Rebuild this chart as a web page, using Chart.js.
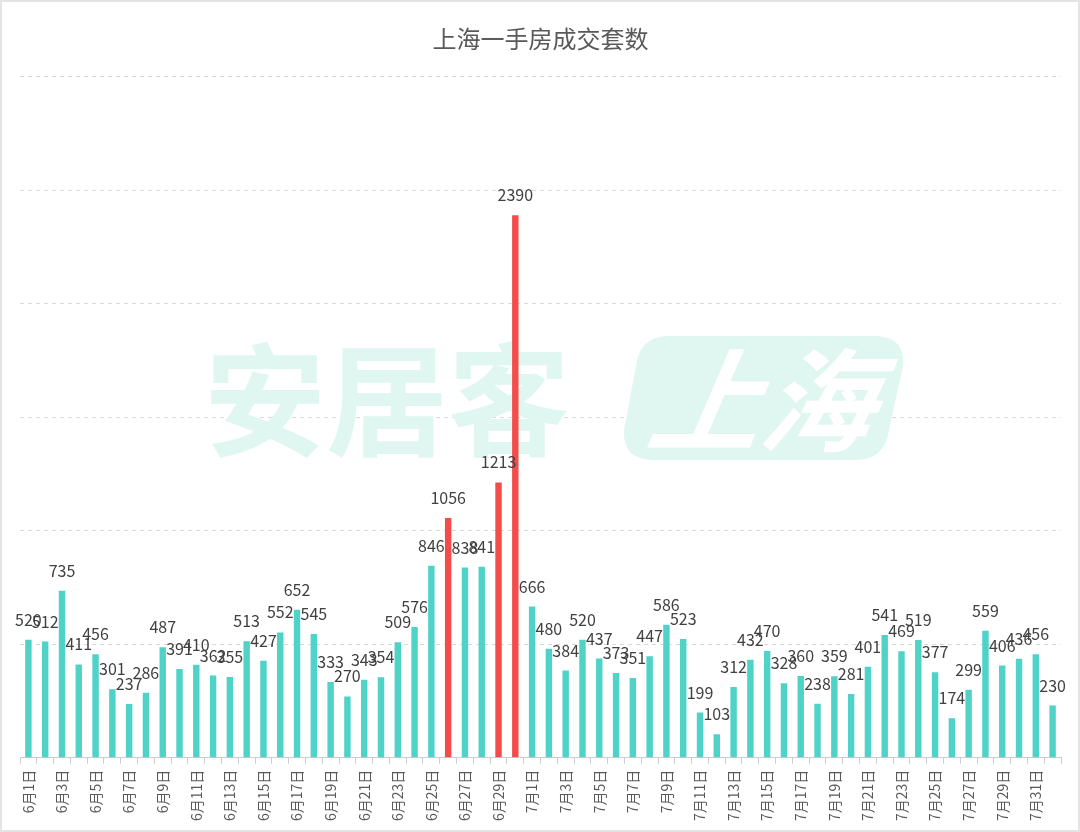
<!DOCTYPE html>
<html>
<head>
<meta charset="utf-8">
<script src="https://cdn.jsdelivr.net/npm/chart.js@4"></script>
<style>
  html, body { margin: 0; padding: 0; background: #fff; }
  #wrap {
    width: 1080px; height: 832px; box-sizing: border-box;
    border: 2px solid #e4e4e4; background: #fff;
  }
  canvas { display: block; }
</style>
</head>
<body>
<div id="wrap"><canvas id="chart" width="1076" height="828"></canvas></div>
<script>
const days = [
  '6月1日','6月2日','6月3日','6月4日','6月5日','6月6日','6月7日','6月8日','6月9日','6月10日',
  '6月11日','6月12日','6月13日','6月14日','6月15日','6月16日','6月17日','6月18日','6月19日','6月20日',
  '6月21日','6月22日','6月23日','6月24日','6月25日','6月26日','6月27日','6月28日','6月29日','6月30日',
  '7月1日','7月2日','7月3日','7月4日','7月5日','7月6日','7月7日','7月8日','7月9日','7月10日',
  '7月11日','7月12日','7月13日','7月14日','7月15日','7月16日','7月17日','7月18日','7月19日','7月20日',
  '7月21日','7月22日','7月23日','7月24日','7月25日','7月26日','7月27日','7月28日','7月29日','7月30日',
  '7月31日','8月1日'
];

const juneDeals = [520, 512, 735, 411, 456, 301, 237, 286, 487, 391,
                   410, 362, 355, 513, 427, 552, 652, 545, 333, 270,
                   343, 354, 509, 576, 846, 1056, 838, 841, 1213, 2390];
const julyDeals = [666, 480, 384, 520, 437, 373, 351, 447, 586, 523,
                   199, 103, 312, 432, 470, 328, 360, 238, 359, 281,
                   401, 541, 469, 519, 377, 174, 299, 559, 406, 436,
                   456];
const augustDeals = [230];

const highlightDays = ['6月26日', '6月29日', '6月30日'];
const yTicks = [0, 500, 1000, 1500, 2000, 2500, 3000];

const deals = juneDeals.concat(julyDeals, augustDeals);
const teal = '#4fd2c8';
const red = '#f44b4b';
const barColors = days.map(d => highlightDays.includes(d) ? red : teal);

// faint logo behind the bars
const watermark = {
  id: 'watermark',
  beforeDatasetsDraw(chart) {
    const ctx = chart.ctx;
    ctx.save();
    ctx.fillStyle = '#e0f7f1';
    ctx.font = 'bold 122px "Noto Sans CJK SC"';
    ctx.textBaseline = 'middle';
    ctx.textAlign = 'left';
    ctx.fillText('安居客', 202, 398);

    // slanted rounded badge
    const x0 = 622, x1 = 903, y0 = 334, y1 = 458, r = 30, s = 14;
    ctx.beginPath();
    ctx.moveTo(x0 + s + r, y0);
    ctx.lineTo(x1 - r, y0);
    ctx.quadraticCurveTo(x1, y0, x1 - 2, y0 + r);
    ctx.lineTo(x1 - s - 2, y1 - r);
    ctx.quadraticCurveTo(x1 - s - 6, y1, x1 - s - r - 6, y1);
    ctx.lineTo(x0 + r, y1);
    ctx.quadraticCurveTo(x0 - 2, y1, x0, y1 - r);
    ctx.lineTo(x0 + s - 2, y0 + r);
    ctx.quadraticCurveTo(x0 + s + 2, y0, x0 + s + r, y0);
    ctx.closePath();
    ctx.fill();

    ctx.fillStyle = '#fff';
    ctx.font = 'italic bold 112px "Noto Sans CJK SC"';
    ctx.textAlign = 'center';
    ctx.translate(762, 398);
    ctx.transform(1, 0, -0.18, 1, 0, 0);
    ctx.fillText('上海', 0, 0);
    ctx.restore();
  }
};

// value above every bar, drawn in order so later labels overlap earlier ones
const barValues = {
  id: 'barValues',
  afterDatasetsDraw(chart) {
    const ctx = chart.ctx;
    const meta = chart.getDatasetMeta(0);
    ctx.save();
    ctx.font = '16px "Noto Sans CJK SC"';
    ctx.fillStyle = '#404040';
    ctx.textAlign = 'center';
    ctx.textBaseline = 'middle';
    meta.data.forEach((bar, i) => {
      ctx.fillText(String(deals[i]), bar.x, bar.y - 20);
    });
    ctx.restore();
  }
};

new Chart(document.getElementById('chart'), {
  type: 'bar',
  data: {
    labels: days,
    datasets: [{
      data: deals,
      backgroundColor: barColors,
      barPercentage: 0.45,
      categoryPercentage: 0.85
    }]
  },
  options: {
    responsive: false,
    animation: false,
    layout: { padding: { top: 2, left: 18, right: 17, bottom: 3 } },
    plugins: {
      legend: { display: false },
      tooltip: { enabled: false },
      title: {
        display: true,
        text: '上海一手房成交套数',
        color: '#595959',
        font: { family: '"Noto Sans CJK SC"', size: 24, weight: 'normal' },
        padding: { top: 20, bottom: 24 }
      }
    },
    scales: {
      x: {
        grid: { display: true, drawOnChartArea: false, drawTicks: true, tickLength: 6, color: '#cccccc', offset: true },
        border: { display: true, color: '#cccccc' },
        ticks: {
          autoSkip: false,
          maxRotation: 90,
          minRotation: 90,
          padding: 6,
          color: '#595959',
          font: { family: '"Noto Sans CJK SC"', size: 14 },
          callback: function (val, idx) {
            return idx % 2 === 0 ? this.getLabelForValue(val) : '';
          }
        }
      },
      y: {
        min: yTicks[0],
        max: yTicks[yTicks.length - 1],
        afterBuildTicks: axis => { axis.ticks = yTicks.map(v => ({ value: v })); },
        ticks: { display: false },
        border: { display: false, dash: [4, 4] },
        grid: { color: '#d9d9d9', drawTicks: false, lineWidth: 1 }
      }
    }
  },
  plugins: [watermark, barValues]
});
</script>
</body>
</html>
